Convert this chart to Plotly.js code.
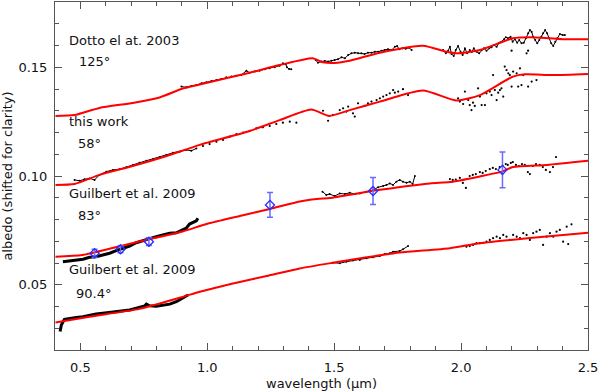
<!DOCTYPE html>
<html>
<head>
<meta charset="utf-8">
<script src="https://cdn.plot.ly/plotly-3.0.1.min.js"></script>
<style>html,body{margin:0;padding:0;background:#fff;}#chart{width:600px;height:391px;}</style>
</head>
<body>
<div id="chart"></div>
<script>
// ---------- model curves (red) ----------
const model1X = [0.402,0.477,0.575,0.706,0.812,0.903,0.970,1.167,1.285,1.415,1.455,1.502,1.561,1.680,1.849,1.944,1.983,2.074,2.204,2.271,2.401,2.500];
const model1Y = [0.1276,0.1280,0.1313,0.1336,0.1361,0.1402,0.1421,0.1475,0.1510,0.1541,0.1523,0.1520,0.1530,0.1567,0.1599,0.1571,0.1564,0.1579,0.1633,0.1638,0.1629,0.1629];

const model2X = [0.402,0.477,0.575,0.706,0.840,0.970,1.167,1.285,1.410,1.480,1.561,1.680,1.849,1.983,2.074,2.204,2.251,2.362,2.500];
const model2Y = [0.0959,0.0963,0.1005,0.1046,0.1092,0.1143,0.1207,0.1257,0.1306,0.1276,0.1303,0.1342,0.1393,0.1347,0.1372,0.1457,0.1468,0.1464,0.1469];

const model3X = [0.402,0.508,0.643,0.773,0.903,0.997,1.128,1.246,1.364,1.411,1.482,1.653,1.877,1.956,2.074,2.161,2.204,2.338,2.500];
const model3Y = [0.0629,0.0637,0.0674,0.0710,0.0745,0.0779,0.0816,0.0848,0.0883,0.0892,0.0899,0.0932,0.0966,0.0972,0.0998,0.1020,0.1041,0.1051,0.1070];

const model4X = [0.402,0.536,0.733,0.903,0.970,1.128,1.234,1.364,1.494,1.628,1.758,1.956,2.074,2.271,2.500];
const model4Y = [0.0326,0.0353,0.0389,0.0444,0.0468,0.0513,0.0540,0.0575,0.0601,0.0626,0.0648,0.0668,0.0691,0.0715,0.0739];

// ---------- measured spectra (black) ----------
// Dotto et al. 2003, 125 deg
const dotto1X = [0.898,0.917,0.937,0.957,0.977,0.996,1.016,1.036,1.055,1.075,1.095,1.115,1.134,1.154,1.167,1.187,1.206,1.226,1.246,1.266,1.285,1.298,1.309,1.314,1.322,1.331];
const dotto1Y = [0.1411,0.1408,0.1414,0.1418,0.1426,0.1431,0.1437,0.1441,0.1446,0.1454,0.1457,0.1461,0.1464,0.1484,0.1475,0.1480,0.1484,0.1491,0.1495,0.1500,0.1507,0.1518,0.1514,0.1500,0.1492,0.1491];
const dotto2X = [1.427,1.436,1.450,1.463,1.476,1.489,1.502,1.515,1.529,1.542,1.555,1.568,1.581,1.594,1.607,1.620,1.633,1.647,1.660,1.673,1.686,1.699,1.712,1.726,1.739,1.748,1.756,1.769,1.782,1.795,1.805];
const dotto2Y = [0.1533,0.1521,0.1526,0.1529,0.1526,0.1530,0.1533,0.1537,0.1546,0.1541,0.1556,0.1564,0.1567,0.1564,0.1564,0.1561,0.1567,0.1567,0.1571,0.1571,0.1576,0.1579,0.1583,0.1579,0.1594,0.1598,0.1583,0.1587,0.1585,0.1590,0.1579];
const dotto3X = [1.929,1.940,1.949,1.956,1.962,1.971,1.979,1.988,1.998,2.006,2.015,2.024,2.034,2.042,2.050,2.061,2.071,2.081,2.090,2.100,2.111,2.120,2.129,2.140,2.150,2.159,2.169,2.176,2.185,2.195,2.203,2.212,2.221,2.229,2.238,2.247,2.255,2.264,2.271,2.278,2.284,2.292,2.300,2.308,2.316,2.323,2.331,2.339,2.347,2.355,2.363,2.371,2.379,2.389,2.400,2.409];
const dotto3Y = [0.1579,0.1564,0.1576,0.1594,0.1561,0.1552,0.1579,0.1598,0.1571,0.1556,0.1587,0.1564,0.1579,0.1570,0.1587,0.1571,0.1564,0.1579,0.1587,0.1576,0.1587,0.1592,0.1602,0.1594,0.1613,0.1617,0.1629,0.1638,0.1633,0.1640,0.1617,0.1629,0.1613,0.1625,0.1610,0.1613,0.1633,0.1656,0.1671,0.1663,0.1640,0.1625,0.1610,0.1625,0.1640,0.1656,0.1671,0.1656,0.1633,0.1610,0.1598,0.1617,0.1633,0.1653,0.1648,0.1648];
const dottoOutX = [2.199,2.258,2.264];
const dottoOutY = [0.1576,0.1564,0.1576];

// this work, 58 deg
const work1X = [0.477,0.497,0.516,0.536,0.556,0.575,0.602,0.628,0.654,0.681,0.707,0.733,0.760,0.786,0.812,0.838,0.865,0.891,0.917,0.937,0.957];
const work1Y = [0.0982,0.0978,0.0985,0.0989,0.0982,0.1005,0.1020,0.1028,0.1031,0.1040,0.1051,0.1061,0.1070,0.1077,0.1086,0.1097,0.1107,0.1112,0.1120,0.1116,0.1127];
const work2X = [0.983,1.009,1.036,1.062,1.088,1.115,1.141,1.167,1.193,1.219,1.246,1.272,1.298,1.325,1.351];
const work2Y = [0.1138,0.1147,0.1158,0.1166,0.1181,0.1193,0.1199,0.1208,0.1219,0.1224,0.1230,0.1239,0.1245,0.1250,0.1245];
const work3X = [1.456,1.476,1.495,1.522,1.535,1.548,1.555,1.574,1.581,1.594,1.620,1.633,1.647,1.667,1.680,1.693,1.706,1.719,1.732,1.739,1.752,1.771,1.791];
const work3Y = [0.1300,0.1254,0.1280,0.1303,0.1311,0.1296,0.1319,0.1288,0.1273,0.1334,0.1322,0.1334,0.1342,0.1349,0.1357,0.1365,0.1372,0.1380,0.1395,0.1383,0.1388,0.1399,0.1372];
const work4X = [1.988,1.995,2.008,2.015,2.028,2.034,2.041,2.047,2.054,2.067,2.074,2.081,2.094,2.100,2.113,2.120,2.126,2.133,2.140,2.146,2.153,2.159,2.166,2.172,2.179,2.186,2.192,2.199,2.205,2.219,2.225,2.232,2.238,2.245,2.264,2.278,2.297];
const work4Y = [0.1357,0.1342,0.1331,0.1388,0.1349,0.1326,0.1303,0.1337,0.1322,0.1403,0.1365,0.1326,0.1326,0.1380,0.1388,0.1372,0.1464,0.1395,0.1349,0.1383,0.1395,0.1403,0.1365,0.1503,0.1487,0.1472,0.1464,0.1411,0.1480,0.1472,0.1411,0.1495,0.1418,0.1464,0.1411,0.1434,0.1441];

// Guilbert et al. 2009, 83 deg
const g83aX = [0.431,0.457,0.484,0.510,0.536,0.562,0.588,0.615,0.641,0.667,0.694,0.720,0.746,0.773,0.799,0.825,0.852,0.878,0.904,0.917,0.930,0.943,0.957,0.963];
const g83aY = [0.0606,0.0609,0.0614,0.0617,0.0626,0.0629,0.0637,0.0645,0.0657,0.0668,0.0678,0.0693,0.0703,0.0714,0.0721,0.0729,0.0737,0.0739,0.0755,0.0760,0.0779,0.0785,0.0794,0.0806];
const g83bX = [1.454,1.469,1.482,1.502,1.522,1.542,1.561,1.581,1.601,1.627,1.653,1.673,1.693,1.706,1.719,1.732,1.745,1.758,1.771,1.785,1.798,1.809,1.818];
const g83bY = [0.0928,0.0913,0.0917,0.0908,0.0920,0.0917,0.0923,0.0917,0.0920,0.0928,0.0936,0.0948,0.0954,0.0959,0.0966,0.0959,0.0974,0.0982,0.0974,0.0969,0.0974,0.0963,0.1000];
const g83cX = [1.956,1.967,1.979,1.995,2.007,2.019,2.034,2.046,2.058,2.074,2.085,2.097,2.113,2.125,2.137,2.152,2.164,2.176,2.184,2.196,2.204,2.216,2.228,2.240,2.251,2.263,2.271,2.283,2.295,2.310,2.322,2.334,2.350,2.362,2.374];
const g83cY = [0.0986,0.0982,0.0984,0.0991,0.0968,0.0945,0.1000,0.1005,0.1009,0.1018,0.1014,0.1023,0.1032,0.1037,0.1032,0.1041,0.1046,0.1055,0.1051,0.1060,0.1064,0.1051,0.1046,0.1055,0.1051,0.1018,0.1009,0.1046,0.1055,0.1051,0.1041,0.1028,0.1018,0.1041,0.1087];

// photometric points with error bars (blue)
const photX = [0.556,0.658,0.770,1.247,1.653,2.163];
const photY = [0.0645,0.0663,0.0698,0.0867,0.0931,0.1028];
const photErr = [0.0018,0.0016,0.0018,0.0057,0.0062,0.0082];

// Guilbert et al. 2009, 90.4 deg
const g90aX = [0.420,0.425,0.437,0.457,0.484,0.510,0.536,0.562,0.588,0.615,0.641,0.667,0.694,0.720,0.733,0.753,0.760,0.773,0.799,0.825,0.852,0.878,0.891,0.904,0.917,0.924];
const g90aY = [0.0285,0.0315,0.0341,0.0346,0.0350,0.0353,0.0361,0.0366,0.0369,0.0373,0.0376,0.0381,0.0384,0.0392,0.0396,0.0402,0.0411,0.0403,0.0401,0.0407,0.0411,0.0422,0.0430,0.0438,0.0445,0.0453];
const g90bX = [1.495,1.522,1.548,1.574,1.601,1.627,1.653,1.680,1.699,1.719,1.732,1.758,1.771,1.791];
const g90bY = [0.0601,0.0599,0.0606,0.0611,0.0614,0.0622,0.0626,0.0632,0.0641,0.0645,0.0652,0.0655,0.0663,0.0678];
const g90cX = [2.021,2.034,2.047,2.061,2.074,2.087,2.100,2.113,2.126,2.140,2.153,2.166,2.179,2.192,2.205,2.219,2.232,2.245,2.258,2.271,2.284,2.297,2.310,2.323,2.337,2.350,2.363,2.376,2.389,2.402,2.416,2.422,2.435];
const g90cY = [0.0675,0.0678,0.0683,0.0691,0.0691,0.0693,0.0698,0.0706,0.0714,0.0721,0.0714,0.0729,0.0721,0.0706,0.0729,0.0721,0.0714,0.0737,0.0729,0.0706,0.0737,0.0744,0.0752,0.0683,0.0721,0.0737,0.0721,0.0744,0.0752,0.0698,0.0767,0.0687,0.0778];

const labels = ["Dotto el at. 2003","125°","this work","58°","Guilbert et al. 2009","83°","Guilbert et al. 2009","90.4°"];

// ---------- traces ----------
const FONT = "DejaVu Sans, Arial, sans-serif";
function dense(x, y, w) {
  return {x:x, y:y, type:'scatter', mode:'lines', line:{color:'black', width:w}, hoverinfo:'skip', showlegend:false};
}
function noisy(x, y) {
  return {x:x, y:y, type:'scatter', mode:'lines+markers', line:{color:'black', width:1}, marker:{color:'black', size:2}, showlegend:false};
}
function dots(x, y) {
  return {x:x, y:y, type:'scatter', mode:'markers', marker:{color:'black', size:2.2}, showlegend:false};
}
function model(x, y) {
  return {x:x, y:y, type:'scatter', mode:'lines', line:{color:'#ff0000', width:2, shape:'spline', smoothing:0.6}, showlegend:false};
}

const traces = [
  noisy(dotto1X, dotto1Y), noisy(dotto2X, dotto2Y), noisy(dotto3X, dotto3Y), dots(dottoOutX, dottoOutY),
  noisy(work1X, work1Y), dots(work2X, work2Y), dots(work3X, work3Y), dots(work4X, work4Y),
  dense(g83aX, g83aY, 3), noisy(g83bX, g83bY), dots(g83cX, g83cY),
  dense(g90aX, g90aY, 3), noisy(g90bX, g90bY), dots(g90cX, g90cY),
  model(model1X, model1Y), model(model2X, model2Y), model(model3X, model3Y), model(model4X, model4Y),
  {x:photX, y:photY, type:'scatter', mode:'markers',
   marker:{symbol:'diamond-open', size:7, color:'#2a2aff', line:{width:1.3, color:'#2a2aff'}},
   error_y:{type:'data', array:photErr, visible:true, color:'#6a6aff', thickness:1.5, width:3},
   showlegend:false}
];

const labelPos = [[0.449,0.1623],[0.485,0.1525],[0.449,0.1250],[0.481,0.1148],[0.449,0.0920],[0.481,0.0818],[0.449,0.0569],[0.473,0.0459]];
const annotations = labels.map((t,i)=>({
  x:labelPos[i][0], y:labelPos[i][1], xref:'x', yref:'y', text:t, showarrow:false,
  xanchor:'left', yanchor:'middle', font:{family:FONT, size:13, color:'#111'}
}));

const axisCommon = {
  showgrid:false, zeroline:false, showline:true, linecolor:'#555', linewidth:1,
  mirror:'ticks', ticks:'inside', ticklen:7, tickwidth:1, tickcolor:'#555',
  tickfont:{family:FONT, size:13, color:'#111'}
};

const layout = {
  width:600, height:391,
  margin:{l:55, r:12, t:2, b:41},
  paper_bgcolor:'white', plot_bgcolor:'white',
  showlegend:false,
  font:{family:FONT, size:13, color:'#111'},
  xaxis:Object.assign({}, axisCommon, {
    range:[0.4, 2.5], tickvals:[0.5,1.0,1.5,2.0,2.5], tickformat:'.1f',
    minor:{dtick:0.1, tick0:0, ticks:'inside', ticklen:4, tickcolor:'#555'},
    ticklabelstandoff:5,
    title:{text:'wavelength (μm)', font:{family:FONT, size:13, color:'#111'}, standoff:5}
  }),
  yaxis:Object.assign({}, axisCommon, {
    range:[0.02, 0.18], tickvals:[0.05,0.10,0.15], tickformat:'.2f',
    minor:{dtick:0.01, tick0:0, ticks:'inside', ticklen:4, tickcolor:'#555'},
    ticklabelstandoff:4,
    title:{text:'albedo (shifted for clarity)', font:{family:FONT, size:13, color:'#111'}, standoff:6}
  }),
  annotations:annotations
};

Plotly.newPlot('chart', traces, layout, {displayModeBar:false, staticPlot:true});
</script>
</body>
</html>
